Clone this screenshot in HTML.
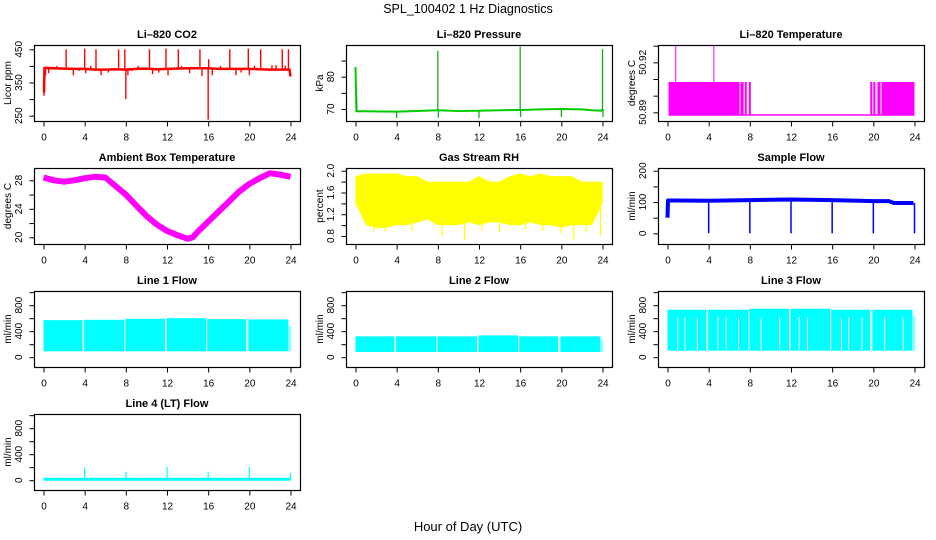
<!DOCTYPE html>
<html><head><meta charset="utf-8">
<style>
html,body{margin:0;padding:0;background:#fff;}
svg{display:block;font-family:"Liberation Sans",Arial,sans-serif;}
</style></head>
<body>
<svg id="chart" width="936" height="540" viewBox="0 0 936 540" xmlns="http://www.w3.org/2000/svg">
<text x="468" y="13" text-anchor="middle" font-size="12.5">SPL_100402  1 Hz Diagnostics</text>
<text x="468" y="531" text-anchor="middle" font-size="13">Hour of Day (UTC)</text>
</svg>
<script>
// ---- data ----
const xTicks = [0,4,8,12,16,20,24];
// CO2
const co2BaseHours = [0.05,0.1,1,2,3,4,5,6,7,8,9,10,11,12,13,14,15,16,17,18,19,20,21,22,23,23.9,24];
const co2BaseVals  = [320,394,393,392,391,391,389,389,390,389,391,392,390,391,392,393,393,393,391,391,391,391,390,389,389,389,368];
const co2SpikeHours = [0.05,0.2,0.5,1.3,2.2,2.9,3.5,4.0,4.1,4.6,5.1,5.6,6.3,7.3,7.9,8.0,8.2,8.6,9.2,10.3,10.6,11.2,11.9,12.1,13.1,13.4,14.2,15.2,15.4,16.0,16.05,16.4,17.2,18.1,18.7,19.2,19.9,20.0,20.5,21.1,21.8,22.2,22.6,23.2,23.5,23.8];
const co2SpikeVals  = [310,372,378,400,450,372,385,452,378,400,450,372,380,450,450,300,372,385,400,450,375,380,452,372,450,400,378,450,370,238,420,372,400,450,372,380,452,372,400,450,385,402,402,450,400,450];
// Pressure
const presBaseHours = [0,0.1,1,4,6,8,10,12,14,16,18,20,22,23,23.9,24];
const presBaseVals  = [83,69.3,69.3,69.2,69.4,69.6,69.4,69.5,69.6,69.7,69.9,70.0,69.9,69.6,69.5,70];
const presSpikeHours = [0.1,4,8,8.05,12,16,16.05,20,24,24.05];
const presSpikeVals  = [74,67.2,88,67.3,67.2,89.3,67.5,67.5,88.5,67.5];
// Li-820 temperature
const ltSegStart = [0.1,7.1,7.5,7.9,19.7,20.0,20.4,20.8];
const ltSegEnd   = [7.0,7.4,7.7,8.1,19.9,20.2,20.7,24.0];
const ltHigh = 50.9082, ltLow = 50.8884;
const ltSpikeHours = [0.8,4.5];
const ltSpikeVals  = [50.94,50.94];
// Ambient box temperature
const ambHours = [0,1,2,3,4,5,6,7,8,9,10,11,12,13,14,14.5,15,16,17,18,19,20,21,22,23,24];
const ambVals  = [28.4,28.0,27.8,28.0,28.3,28.5,28.4,27.2,26.0,24.5,23.0,21.8,20.9,20.3,19.8,20.0,20.8,22.2,23.6,25.0,26.4,27.5,28.3,29.0,28.8,28.5];
// Gas stream RH
const rhHours = [0,1,2,3,4,5,6,7,8,9,10,11,12,13,14,15,16,17,18,19,20,21,22,23,24];
const rhHigh  = [1.9,1.95,1.95,1.95,1.95,1.9,1.9,1.8,1.8,1.8,1.8,1.8,1.9,1.8,1.8,1.9,1.95,1.9,1.95,1.9,1.9,1.9,1.8,1.8,1.8];
const rhLow   = [1.4,1.0,0.95,0.95,1.0,1.0,1.05,1.1,1.0,1.0,1.0,1.05,1.0,1.05,1.05,1.0,1.0,1.05,1.0,1.0,0.95,1.0,1.0,1.0,1.4];
const rhSpikeHours = [1.8,2.9,5.5,8.4,10.6,12.3,14.0,16.5,18.2,20.0,21.2,22.4,23.8];
const rhSpikeVals  = [0.88,0.88,0.9,0.8,0.73,0.9,0.88,0.92,0.9,0.85,0.72,0.87,0.8];
// Sample flow
const sfHours = [0,0.05,1,4,8,12,16,20,21.5,22,23.9];
const sfVals  = [50,105,105,104,106,108,106,103,103,97,97];
const sfDropHours = [4,8,12,16,20,24];
const sfDropVals  = [0,0,0,0,0,0];
// Line flows (segments)
const l1Start = [0.0,3.95,7.95,11.95,15.9,19.9,23.9];
const l1End   = [3.8,7.85,11.8,15.8,19.7,23.8,24.0];
const l1High  = [570,575,590,600,585,580,480];
const l1Low   = [90,90,90,90,90,90,90];
const l2Start = [0.0,3.95,7.95,11.95,15.9,19.9,23.9];
const l2End   = [3.8,7.85,11.8,15.8,19.7,23.8,24.0];
const l2High  = [320,320,320,335,320,320,260];
const l2Low   = [80,80,80,80,80,80,80];
const l3Start = [0.0,3.95,7.95,11.95,15.9,19.9,23.9];
const l3End   = [3.8,7.85,11.8,15.8,19.7,23.8,24.0];
const l3High  = [730,730,745,745,730,730,640];
const l3Low   = [100,100,100,100,100,100,100];
const l3GapHours = [1.0,1.7,2.9,4.9,5.7,6.9,9.1,10.9,12.8,13.6,16.9,17.6,18.9,21.1,22.9];
const l3GapVals  = [620,620,620,620,620,620,620,620,620,620,620,620,620,620,620];
// Line 4
const l4BaseHours = [0,24];
const l4BaseVals  = [15,15];
const l4SpikeHours = [4,8,12,16,20,24];
const l4SpikeVals  = [200,130,200,130,200,110];

// ---- drawing ----
const NS = 'http://www.w3.org/2000/svg';
const svg = document.getElementById('chart');
const colLeft = [34,346,658], rowTop = [45,168,291,414];
const BW = 266, BH = 76;
function mk(tag, attrs, parent){
  const e = document.createElementNS(NS, tag);
  for (const k in attrs) e.setAttribute(k, attrs[k]);
  (parent||svg).appendChild(e);
  return e;
}
function panel(name, title, ylab, col, row, ymin, ymax, yTicks, yLabels, fmt){
  const L = colLeft[col], T = rowTop[row];
  const g = mk('g', {});
  
  
  const xs = h => L + 9.5 + h * (247 / 24);
  const ys = v => T + BH - (v - ymin) / (ymax - ymin) * BH;
  const clipId = 'clip-' + name;
  const cp = mk('clipPath', {id: clipId}, g);
  mk('rect', {x: L, y: T, width: BW, height: BH}, cp);
  const plot = mk('g', {'clip-path': 'url(#' + clipId + ')'}, g);
  
  
  const box = mk('rect', {x: L+0.5, y: T+0.5, width: BW, height: BH, fill: 'none', stroke: '#000', 'stroke-width': 1.2}, g);
  
  
  const t = mk('text', {x: L + BW/2, y: T - 7, 'text-anchor': 'middle', 'font-size': 11, 'font-weight': 'bold'}, g);
  t.textContent = title;
  
  
  // x axis
  const xa = mk('g', {}, g);
  
  
  const by = T + BH + 0.5;
  xTicks.forEach(v => {
    mk('line', {x1: xs(v)+0.5, x2: xs(v)+0.5, y1: by, y2: by+5, stroke: '#000'}, xa);
    const tx = mk('text', {x: xs(v)+0.5, y: by+19, 'text-anchor': 'middle', 'font-size': 10}, xa);
    tx.textContent = v;
  });
  // y axis
  const ya = mk('g', {}, g);
  
  
  const ax = L + 0.5;
  yTicks.forEach(v => {
    mk('line', {x1: ax-5, x2: ax, y1: ys(v)+0.5, y2: ys(v)+0.5, stroke: '#000'}, ya);
  });
  yLabels.forEach(v => {
    const y = ys(v);
    const tx = mk('text', {x: L-12, y: y, 'text-anchor': 'middle', 'font-size': 10, transform: 'rotate(-90 ' + (L-12) + ' ' + y + ')'}, ya);
    tx.textContent = fmt ? v.toFixed(fmt) : v.toString();
  });
  const yl = mk('text', {x: L-23, y: T+BH/2, 'text-anchor': 'middle', 'font-size': 10, transform: 'rotate(-90 ' + (L-23) + ' ' + (T+BH/2) + ')'}, g);
  yl.textContent = ylab;
  
  
  return {plot, xs, ys};
}
function polyline(p, hours, vals, color, w, name){
  const pts = hours.map((h,i) => p.xs(h).toFixed(1) + ',' + p.ys(vals[i]).toFixed(1)).join(' ');
  const e = mk('polyline', {points: pts, fill: 'none', stroke: color, 'stroke-width': w, 'stroke-linejoin': 'round'}, p.plot);
  
  
}
function spikes(p, hours, vals, baseFn, color, w, name){
  hours.forEach((h,i) => {
    const e = mk('line', {x1: p.xs(h), x2: p.xs(h), y1: p.ys(baseFn(h)), y2: p.ys(vals[i]), stroke: color, 'stroke-width': w}, p.plot);
    
    
  });
}
function interp(hs, vs){
  return h => { for (let i=1;i<hs.length;i++){ if (h<=hs[i]) { const f=(h-hs[i-1])/(hs[i]-hs[i-1]||1); return vs[i-1]+f*(vs[i]-vs[i-1]); } } return vs[vs.length-1]; };
}
function segs(p, st, en, lo, hi, color, name){
  st.forEach((s,i) => {
    const e = mk('rect', {x: p.xs(s), y: p.ys(hi[i]), width: Math.max(1, p.xs(en[i]) - p.xs(s)), height: p.ys(lo[i]) - p.ys(hi[i]), fill: color}, p.plot);
    
    
  });
}

// CO2
let p = panel('co2', 'Li\u2013820 CO2', 'Licor ppm', 0, 0, 234, 463, [250,300,350,400,450], [250,350,450]);
polyline(p, co2BaseHours, co2BaseVals, '#ff0000', 2.5, 'co2-line');
spikes(p, co2SpikeHours, co2SpikeVals, interp(co2BaseHours, co2BaseVals), '#ff0000', 1.4, 'co2-spike');
// Pressure
p = panel('pressure', 'Li\u2013820 Pressure', 'kPa', 1, 0, 66.3, 89.8, [70,75,80,85], [70,80]);
polyline(p, presBaseHours, presBaseVals, '#00cc00', 2, 'pressure-line');
spikes(p, presSpikeHours, presSpikeVals, interp(presBaseHours, presBaseVals), '#00aa00', 1.2, 'pressure-spike');
// Li-820 temperature
p = panel('li-temp', 'Li\u2013820 Temperature', 'degrees C', 2, 0, 50.8848, 50.9304, [50.89,50.9,50.91,50.92,50.93], [50.89,50.92]);
segs(p, ltSegStart, ltSegEnd, ltSegStart.map(()=>ltLow), ltSegStart.map(()=>ltHigh), '#ff00ff', 'li-temp-band');
polyline(p, [0.1,24], [ltLow, ltLow], '#ff00ff', 1.5, 'li-temp-baseline');
spikes(p, ltSpikeHours, ltSpikeVals, ()=>ltHigh, '#ff00ff', 1, 'li-temp-spike');
// Ambient
p = panel('ambient', 'Ambient Box Temperature', 'degrees C', 0, 1, 19.06, 29.73, [20,22,24,26,28], [20,24,28]);
polyline(p, ambHours, ambVals, '#ff00ff', 6, 'ambient-line');
// RH
p = panel('rh', 'Gas Stream RH', 'percent', 1, 1, 0.653, 2.05, [0.8,1.0,1.2,1.4,1.6,1.8,2.0], [0.8,1.2,1.6,2.0], 1);
(function(){
  const pts = rhHours.map((h,i)=>p.xs(h)+','+p.ys(rhHigh[i])).concat(rhHours.slice().reverse().map((h,j)=>{const i=rhHours.length-1-j; return p.xs(h)+','+p.ys(rhLow[i]);})).join(' ');
  const e = mk('polygon', {points: pts, fill: '#ffff00'}, p.plot);
  
  
})();
spikes(p, rhSpikeHours, rhSpikeVals, interp(rhHours, rhLow), '#ffff00', 1.2, 'rh-spike');
// Sample flow
p = panel('sample-flow', 'Sample Flow', 'ml/min', 2, 1, -34, 208.6, [0,50,100,150,200], [0,100,200]);
polyline(p, sfHours, sfVals, '#0000ff', 4, 'sample-flow-line');
spikes(p, sfDropHours, sfDropVals, interp(sfHours, sfVals), '#0000ff', 1.5, 'sample-flow-drop');
// Line flows
const lfTicks = [0,200,400,600,800,1000], lfLabels = [0,400,800];
p = panel('line1-flow', 'Line 1 Flow', 'ml/min', 0, 2, -151, 1018, lfTicks, lfLabels);
segs(p, l1Start, l1End, l1Low, l1High, '#00ffff', 'line1-band');
p = panel('line2-flow', 'Line 2 Flow', 'ml/min', 1, 2, -151, 1018, lfTicks, lfLabels);
segs(p, l2Start, l2End, l2Low, l2High, '#00ffff', 'line2-band');
p = panel('line3-flow', 'Line 3 Flow', 'ml/min', 2, 2, -151, 1018, lfTicks, lfLabels);
segs(p, l3Start, l3End, l3Low, l3High, '#00ffff', 'line3-band');
spikes(p, l3GapHours, l3GapVals, ()=>110, '#ffffff', 1, 'line3-gap');
p = panel('line4-flow', 'Line 4 (LT) Flow', 'ml/min', 0, 3, -151, 1018, lfTicks, lfLabels);
polyline(p, l4BaseHours, l4BaseVals, '#00ffff', 3, 'line4-line');
spikes(p, l4SpikeHours, l4SpikeVals, ()=>15, '#00ffff', 1.2, 'line4-spike');
</script>
</body></html>
